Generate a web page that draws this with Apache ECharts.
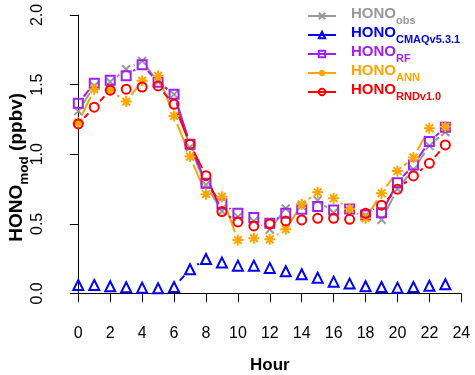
<!DOCTYPE html>
<html>
<head>
<meta charset="utf-8">
<script src="https://cdn.jsdelivr.net/npm/echarts@6.0.0/dist/echarts.min.js"></script>
<style>
  html, body { margin: 0; padding: 0; background: #fff; }
  #chart { width: 475px; height: 375px; }
</style>
</head>
<body>
<div id="chart"></div>
<script>
// hour of day
const hours = [0, 1, 2, 3, 4, 5, 6, 7, 8, 9, 10, 11, 12, 13, 14, 15, 16, 17, 18, 19, 20, 21, 22, 23];
const xTicks = [0, 2, 4, 6, 8, 10, 12, 14, 16, 18, 20, 22, 24];
const yTicks = [0.0, 0.5, 1.0, 1.5, 2.0];

// HONO (ppbv)
const honoObs = [1.31, 1.49, 1.52, 1.61, 1.67, 1.52, 1.43, 1.05, 0.78, 0.59, 0.55, 0.52, 0.46, 0.61, 0.63, 0.67, 0.58, 0.60, 0.56, 0.53, 0.75, 0.89, 1.06, 1.16];
const honoCmaq = [0.061, 0.061, 0.052, 0.045, 0.042, 0.037, 0.047, 0.174, 0.248, 0.222, 0.200, 0.200, 0.184, 0.160, 0.138, 0.114, 0.085, 0.071, 0.052, 0.047, 0.042, 0.047, 0.056, 0.066];
const honoRf = [1.366, 1.510, 1.532, 1.563, 1.642, 1.517, 1.431, 1.072, 0.792, 0.643, 0.576, 0.545, 0.504, 0.576, 0.605, 0.624, 0.600, 0.607, 0.564, 0.580, 0.796, 0.923, 1.091, 1.194];
const honoAnn = [1.227, 1.467, 1.460, 1.378, 1.527, 1.563, 1.275, 0.983, 0.713, 0.695, 0.384, 0.397, 0.389, 0.461, 0.641, 0.727, 0.684, 0.607, 0.540, 0.720, 0.880, 0.976, 1.187, 1.198];
const honoRnd = [1.218, 1.338, 1.460, 1.467, 1.483, 1.491, 1.359, 1.072, 0.846, 0.588, 0.514, 0.485, 0.499, 0.521, 0.528, 0.540, 0.540, 0.533, 0.576, 0.634, 0.749, 0.844, 0.935, 1.067];

const FONT = 'Liberation Sans, Arial, sans-serif';
const GAP = 8.5; // R type="b" leaves a gap round each point

const X_PATH = 'path://M0,0L10,10M10,0L0,10';
const STAR_PATH = 'path://M5,0L5,10M0,5L10,5M1.5,1.5L8.5,8.5M8.5,1.5L1.5,8.5';

const defs = [
  {key: 'obs', sub: 'obs', vals: honoObs, color: '#999999', symbol: X_PATH, size: 8},
  {key: 'cmaq', sub: 'CMAQv5.3.1', vals: honoCmaq, color: '#0000FF', symbol: 'triangle', size: 10},
  {key: 'rf', sub: 'RF', vals: honoRf, color: '#A020F0', symbol: 'rect', size: 9},
  {key: 'ann', sub: 'ANN', vals: honoAnn, color: '#FFA500', symbol: STAR_PATH, size: 11},
  {key: 'rnd', sub: 'RNDv1.0', vals: honoRnd, color: '#FF0000', symbol: 'circle', size: 9}
];

function segments(d) {
  const data = d.vals.slice(0, -1).map((v, i) => [hours[i], v, hours[i + 1], d.vals[i + 1]]);
  return {
    type: 'custom',
    name: d.key + '_seg',
    data: data,
    encode: {x: [0, 2], y: [1, 3]},
    silent: true,
    renderItem: function (params, api) {
      const a = api.coord([api.value(0), api.value(1)]);
      const b = api.coord([api.value(2), api.value(3)]);
      const dx = b[0] - a[0], dy = b[1] - a[1];
      const len = Math.hypot(dx, dy);
      if (len <= 2 * GAP) return {type: 'group', children: []};
      const ux = dx / len, uy = dy / len;
      return {
        type: 'line',
        shape: {x1: a[0] + ux * GAP, y1: a[1] + uy * GAP, x2: b[0] - ux * GAP, y2: b[1] - uy * GAP},
        style: {stroke: d.color, lineWidth: 2}
      };
    }
  };
}

function points(d) {
  return {
    type: 'line',
    name: d.key,
    data: hours.map((h, i) => [h, d.vals[i]]),
    symbol: d.symbol,
    symbolSize: d.size,
    showSymbol: true,
    showAllSymbol: true,
    lineStyle: {width: 0, opacity: 0, color: d.color},
    itemStyle: {color: 'rgba(0,0,0,0)', borderColor: d.color, borderWidth: 2},
    emphasis: {disabled: true}
  };
}

const series = [];
defs.forEach(d => { series.push(segments(d)); series.push(points(d)); });

const chart = echarts.init(document.getElementById('chart'));
chart.setOption({
  animation: false,
  backgroundColor: '#fff',
  grid: {left: 78.3, right: 13.7, top: 15, bottom: 81.5, containLabel: false, outerBoundsMode: 'none'},
  xAxis: {
    type: 'value',
    min: xTicks[0],
    max: xTicks[xTicks.length - 1],
    interval: 2,
    offset: 11,
    axisLine: {lineStyle: {color: '#000', width: 1}},
    axisTick: {length: 8.5, lineStyle: {color: '#000'}},
    axisLabel: {color: '#000', fontFamily: FONT, fontSize: 16, margin: 21},
    splitLine: {show: false},
    name: 'Hour',
    nameLocation: 'middle',
    nameGap: 52,
    nameMoveOverlap: false,
    nameTextStyle: {color: '#000', fontFamily: FONT, fontSize: 17, fontWeight: 'bold'}
  },
  yAxis: {
    type: 'value',
    min: yTicks[0],
    max: yTicks[yTicks.length - 1],
    interval: 0.5,
    offset: 16,
    axisLine: {lineStyle: {color: '#000', width: 1}},
    axisTick: {length: 8.5, lineStyle: {color: '#000'}},
    axisLabel: {color: '#000', fontFamily: FONT, fontSize: 16, rotate: 90, margin: 17,
      formatter: v => v.toFixed(1)},
    splitLine: {show: false},
    name: '{m|HONO}{s|mod}{m| (ppbv)}',
    nameLocation: 'middle',
    nameRotate: 90,
    nameGap: 31,
    nameMoveOverlap: false,
    nameTextStyle: {
      color: '#000', fontFamily: FONT, fontWeight: 'bold', padding: [0, 26, 0, 0],
      rich: {
        m: {fontSize: 19, fontWeight: 'bold', fontFamily: FONT, color: '#000', lineHeight: 24, verticalAlign: 'top'},
        s: {fontSize: 13.5, fontWeight: 'bold', fontFamily: FONT, color: '#000', lineHeight: 24, verticalAlign: 'bottom'}
      }
    }
  },
  legend: {
    orient: 'vertical',
    left: 307,
    top: 6,
    padding: 0,
    itemWidth: 28,
    itemHeight: 8,
    itemGap: -1,
    selectedMode: false,
    lineStyle: {width: 2, opacity: 1, type: 'solid'},
    data: defs.map(d => ({name: d.key, textStyle: {color: d.color}})),
    formatter: function (name) {
      const d = defs.find(x => x.key === name);
      return '{m|HONO}{s|' + d.sub + '}';
    },
    textStyle: {
      fontFamily: FONT,
      rich: {
        m: {fontSize: 15, fontWeight: 'bold', fontFamily: FONT, lineHeight: 20, verticalAlign: 'top', padding: [0, 0, 0, 10]},
        s: {fontSize: 11, fontWeight: 'bold', fontFamily: FONT, lineHeight: 20, verticalAlign: 'bottom'}
      }
    }
  },
  series: series
});
</script>
</body>
</html>
